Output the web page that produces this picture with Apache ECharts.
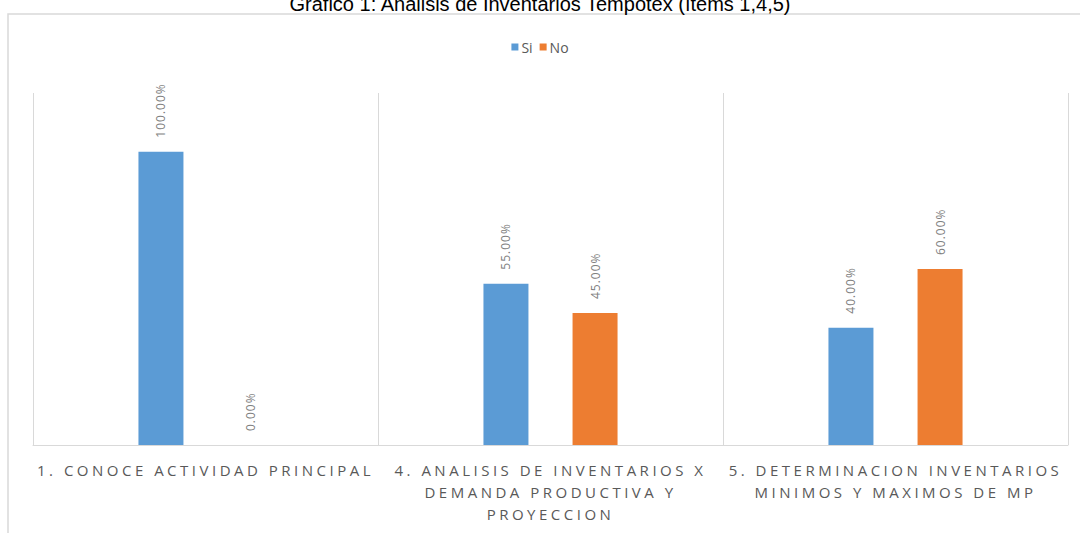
<!DOCTYPE html>
<html>
<head>
<meta charset="utf-8">
<title>Gráfico 1</title>
<script src="https://cdn.jsdelivr.net/npm/echarts@6/dist/echarts.min.js"></script>
<style>
  html, body { margin: 0; padding: 0; background: #fff; }
  #grafico { width: 1080px; height: 533px; }
</style>
</head>
<body>
<div id="grafico"></div>
<script>
// datos (porcentajes)
var categorias = [
  '1. CONOCE ACTIVIDAD PRINCIPAL',
  '4. ANALISIS DE INVENTARIOS X\nDEMANDA PRODUCTIVA Y\nPROYECCION',
  '5. DETERMINACION INVENTARIOS\nMINIMOS Y MAXIMOS DE MP'
]
var valoresSi = [100, 55, 40]
var valoresNo = [0, 45, 60]
var nombresSeries = ['Si', 'No']

var dom = document.getElementById('grafico')
var chart = echarts.init(dom, null, { renderer: 'svg' })

// lineas de texto del eje x (para darles espaciado entre letras)
var lineasEje = []
categorias.forEach(function (c) {
  c.split('\n').forEach(function (l) { lineasEje.push(l) })
})

var etiquetaBarra = {
  show: true,
  position: 'top',
  rotate: 90,
  align: 'left',
  verticalAlign: 'middle',
  distance: 14,
  color: '#808080',
  fontSize: 12,
  fontFamily: 'Open Sans',
  formatter: function (p) { return p.value.toFixed(2) + '%' }
}

var option = {
  animation: false,
  title: {
    text: 'Gráfico 1: Análisis de Inventarios Tempotex (ítems 1,4,5)',
    left: 'center',
    top: -6,
    padding: 0,
    textStyle: {
      fontFamily: 'Liberation Sans',
      fontSize: 20,
      fontWeight: 'normal',
      color: '#000'
    }
  },
  legend: {
    data: nombresSeries,
    left: 'center',
    top: 40,
    padding: 0,
    icon: 'rect',
    itemWidth: 7,
    itemHeight: 7,
    itemGap: 7,
    textStyle: { color: '#595959', fontSize: 14, fontFamily: 'Open Sans', padding: [0, 0, 0, -2] }
  },
  graphic: [
    {
      // marco exterior del grafico
      type: 'rect',
      silent: true,
      shape: { x: 8, y: 14, width: 1100, height: 560 },
      style: { fill: 'none', stroke: '#d9d9d9', lineWidth: 1.5 }
    }
  ],
  grid: { left: 33, right: 12, top: 93, bottom: 88 },
  xAxis: {
    type: 'category',
    data: categorias,
    axisLine: { lineStyle: { color: '#d9d9d9', width: 1 } },
    axisTick: { show: false },
    splitLine: { show: true, lineStyle: { color: '#d9d9d9', width: 1 } },
    axisLabel: {
      interval: 0,
      margin: 14,
      lineHeight: 22,
      fontSize: 15,
      fontFamily: 'Open Sans',
      color: '#595959'
    }
  },
  yAxis: {
    type: 'value',
    min: 0,
    max: 120,
    show: false,
    splitLine: { show: false }
  },
  series: [
    {
      name: nombresSeries[0],
      type: 'bar',
      data: valoresSi,
      barWidth: 45,
      barGap: '98%',
      itemStyle: { color: '#5b9bd5' },
      label: etiquetaBarra
    },
    {
      name: nombresSeries[1],
      type: 'bar',
      data: valoresNo,
      barWidth: 45,
      itemStyle: { color: '#ed7d31' },
      label: etiquetaBarra
    }
  ]
}

// espaciado de letras como en el original (Excel)
chart.on('finished', function () {
  var textos = dom.querySelectorAll('text')
  textos.forEach(function (t) {
    var s = t.textContent
    if (lineasEje.indexOf(s) >= 0) t.setAttribute('letter-spacing', '3.5')
    else if (/%$/.test(s)) t.setAttribute('letter-spacing', '1')
  })
})

chart.setOption(option)
</script>
</body>
</html>
